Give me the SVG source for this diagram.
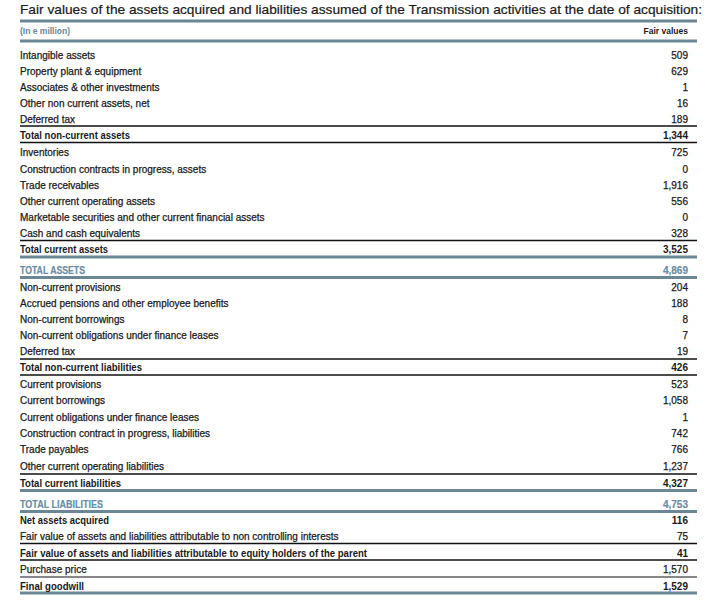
<svg xmlns="http://www.w3.org/2000/svg" width="714" height="612" viewBox="0 0 714 612">
<style>
text{font-family:"Liberation Sans",Arial,sans-serif;fill:#1a1a1a}
.t{font-size:13px;stroke:#1a1a1a;stroke-width:0.2}
.h{font-size:8.5px;font-weight:bold}
.hb{fill:#6a8797}
.l{font-size:10px;stroke:#1a1a1a;stroke-width:0.25}
.b{font-size:10px;font-weight:bold}
.v{font-size:10px;text-anchor:end;stroke:#1a1a1a;stroke-width:0.25}
.vb{font-size:10px;font-weight:bold;text-anchor:end}
.blue{fill:#6a8ea3;stroke:#6a8ea3;stroke-width:0.2}
.rb{stroke:#6a8796;stroke-width:3}
.rk{stroke:#111;stroke-width:1.6}
.rt{stroke:#111;stroke-width:1}
</style>
<rect width="714" height="612" fill="#fff"/>
<text class="t" x="20" y="14" textLength="682" lengthAdjust="spacingAndGlyphs">Fair values of the assets acquired and liabilities assumed of the Transmission activities at the date of acquisition:</text>
<g id="rules">
<line class="rb" x1="20" y1="21" x2="697" y2="21"/>
<line class="rb" x1="20" y1="41" x2="697" y2="41"/>
<line class="rk" x1="20" y1="126" x2="697" y2="126"/>
<line class="rk" x1="20" y1="142.5" x2="697" y2="142.5"/>
<line class="rk" x1="20" y1="240.5" x2="697" y2="240.5"/>
<line class="rb" x1="20" y1="257" x2="697" y2="257"/>
<line class="rb" x1="20" y1="277.5" x2="697" y2="277.5"/>
<line class="rk" x1="20" y1="359" x2="697" y2="359"/>
<line class="rk" x1="20" y1="375" x2="697" y2="375"/>
<line class="rk" x1="20" y1="474" x2="697" y2="474"/>
<line class="rb" x1="20" y1="490.5" x2="697" y2="490.5"/>
<line class="rb" x1="20" y1="511.5" x2="697" y2="511.5"/>
<line class="rk" x1="20" y1="543.5" x2="697" y2="543.5"/>
<line class="rk" x1="20" y1="560" x2="697" y2="560"/>
<line class="rt" x1="20" y1="577" x2="697" y2="577"/>
<line class="rb" x1="20" y1="593" x2="697" y2="593"/>
</g>
<g id="header">
<text class="h hb" x="20" y="34">(In e million)</text>
<text class="h" x="688" y="34" text-anchor="end">Fair values</text>
</g>
<g id="labels">
<text class="l" x="20" y="58.5">Intangible assets</text>
<text class="l" x="20" y="74.5">Property plant &amp; equipment</text>
<text class="l" x="20" y="90.5">Associates &amp; other investments</text>
<text class="l" x="20" y="106.5">Other non current assets, net</text>
<text class="l" x="20" y="122.5">Deferred tax</text>
<text class="b" x="20" y="138.5" textLength="110" lengthAdjust="spacingAndGlyphs">Total non-current assets</text>
<text class="l" x="20" y="156">Inventories</text>
<text class="l" x="20" y="172.5">Construction contracts in progress, assets</text>
<text class="l" x="20" y="188.5">Trade receivables</text>
<text class="l" x="20" y="204.5">Other current operating assets</text>
<text class="l" x="20" y="221">Marketable securities and other current financial assets</text>
<text class="l" x="20" y="237">Cash and cash equivalents</text>
<text class="b" x="20" y="253" textLength="88" lengthAdjust="spacingAndGlyphs">Total current assets</text>
<text class="b blue" x="20" y="273.5" textLength="65" lengthAdjust="spacingAndGlyphs">TOTAL ASSETS</text>
<text class="l" x="20" y="291">Non-current provisions</text>
<text class="l" x="20" y="307">Accrued pensions and other employee benefits</text>
<text class="l" x="20" y="323">Non-current borrowings</text>
<text class="l" x="20" y="339">Non-current obligations under finance leases</text>
<text class="l" x="20" y="355">Deferred tax</text>
<text class="b" x="20" y="371" textLength="122" lengthAdjust="spacingAndGlyphs">Total non-current liabilities</text>
<text class="l" x="20" y="388">Current provisions</text>
<text class="l" x="20" y="404">Current borrowings</text>
<text class="l" x="20" y="421">Current obligations under finance leases</text>
<text class="l" x="20" y="437">Construction contract in progress, liabilities</text>
<text class="l" x="20" y="453">Trade payables</text>
<text class="l" x="20" y="469.5">Other current operating liabilities</text>
<text class="b" x="20" y="486.5" textLength="101" lengthAdjust="spacingAndGlyphs">Total current liabilities</text>
<text class="b blue" x="20" y="507.5" textLength="83" lengthAdjust="spacingAndGlyphs">TOTAL LIABILITIES</text>
<text class="b" x="20" y="524" textLength="89" lengthAdjust="spacingAndGlyphs">Net assets acquired</text>
<text class="l" x="20" y="540">Fair value of assets and liabilities attributable to non controlling interests</text>
<text class="b" x="20" y="556.5" textLength="347" lengthAdjust="spacingAndGlyphs">Fair value of assets and liabilities attributable to equity holders of the parent</text>
<text class="l" x="20" y="573">Purchase price</text>
<text class="b" x="20" y="589.5" textLength="64" lengthAdjust="spacingAndGlyphs">Final goodwill</text>
</g>
<g id="values">
<text class="v" x="688" y="58.5">509</text>
<text class="v" x="688" y="74.5">629</text>
<text class="v" x="688" y="90.5">1</text>
<text class="v" x="688" y="106.5">16</text>
<text class="v" x="688" y="122.5">189</text>
<text class="vb" x="688" y="138.5">1,344</text>
<text class="v" x="688" y="156">725</text>
<text class="v" x="688" y="172.5">0</text>
<text class="v" x="688" y="188.5">1,916</text>
<text class="v" x="688" y="204.5">556</text>
<text class="v" x="688" y="221">0</text>
<text class="v" x="688" y="237">328</text>
<text class="vb" x="688" y="253">3,525</text>
<text class="vb blue" x="688" y="273.5">4,869</text>
<text class="v" x="688" y="291">204</text>
<text class="v" x="688" y="307">188</text>
<text class="v" x="688" y="323">8</text>
<text class="v" x="688" y="339">7</text>
<text class="v" x="688" y="355">19</text>
<text class="vb" x="688" y="371">426</text>
<text class="v" x="688" y="388">523</text>
<text class="v" x="688" y="404">1,058</text>
<text class="v" x="688" y="421">1</text>
<text class="v" x="688" y="437">742</text>
<text class="v" x="688" y="453">766</text>
<text class="v" x="688" y="469.5">1,237</text>
<text class="vb" x="688" y="486.5">4,327</text>
<text class="vb blue" x="688" y="507.5">4,753</text>
<text class="vb" x="688" y="524">116</text>
<text class="v" x="688" y="540">75</text>
<text class="vb" x="688" y="556.5">41</text>
<text class="v" x="688" y="573">1,570</text>
<text class="vb" x="688" y="589.5">1,529</text>
</g>
</svg>
